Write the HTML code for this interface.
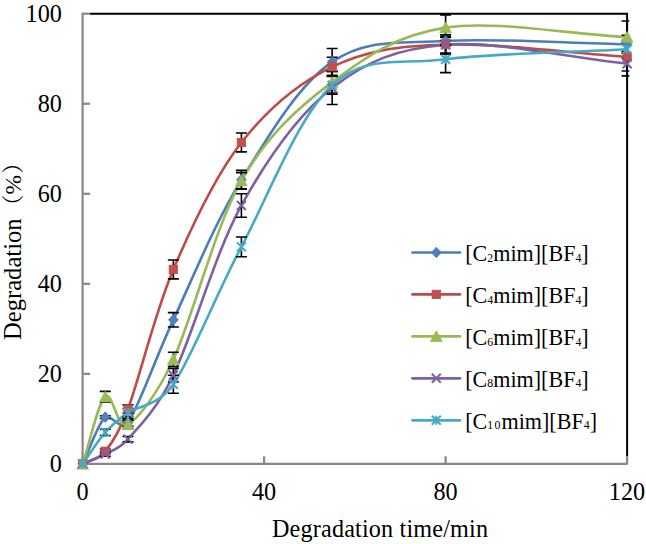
<!DOCTYPE html>
<html><head><meta charset="utf-8"><title>Degradation chart</title>
<style>html,body{margin:0;padding:0;background:#fff}body{width:646px;height:544px;overflow:hidden}</style></head>
<body>
<svg width="646" height="544" viewBox="0 0 646 544" style="display:block" font-family="'Liberation Serif', 'Noto Serif CJK SC', serif" fill="#000">
<rect width="646" height="544" fill="#fff"/>
<defs><clipPath id="pc"><rect x="0" y="0" width="629.3" height="544"/></clipPath></defs>
<g stroke="#878787" stroke-width="2.2" fill="none">
<path d="M82.6,12.7 V463.9 H627.6"/>
<path d="M82.6,463.90 h7.5"/>
<path d="M82.6,373.86 h7.5"/>
<path d="M82.6,283.82 h7.5"/>
<path d="M82.6,193.78 h7.5"/>
<path d="M82.6,103.74 h7.5"/>
<path d="M82.6,13.70 h7.5"/>
<path d="M82.60,463.9 v-7.6"/>
<path d="M264.10,463.9 v-7.6"/>
<path d="M445.60,463.9 v-7.6"/>
<path d="M627.10,463.9 v-7.6"/>
</g>
<path d="M90.1,13.7 H627.1 V456.3" stroke="#000" stroke-width="2" fill="none"/>
<path d="M82.60,463.90 C90.16,448.29 97.72,423.98 105.29,417.08 C109.75,413.01 121.29,432.03 127.97,422.48 C139.32,406.27 154.44,360.28 173.35,319.84 C192.26,279.39 214.94,222.82 241.41,179.82 C267.88,136.83 298.13,85.02 332.16,61.87 C366.19,38.72 396.44,43.86 445.60,40.94 C494.76,38.01 566.60,43.19 627.10,44.31" fill="none" stroke="#4A7EBB" stroke-width="2.6" stroke-linecap="round" stroke-linejoin="round"/>
<path d="M82.60,463.90 C90.16,459.70 97.72,460.45 105.29,451.29 C110.90,444.50 119.56,431.46 127.97,408.98 C139.32,378.66 154.44,313.83 173.35,269.41 C192.26,224.99 214.94,176.22 241.41,142.46 C267.88,108.69 298.13,83.14 332.16,66.82 C366.19,50.50 396.44,46.19 445.60,44.54 C494.76,42.89 566.60,52.79 627.10,56.92" fill="none" stroke="#BE4B48" stroke-width="2.6" stroke-linecap="round" stroke-linejoin="round"/>
<path d="M82.60,463.90 C90.16,441.54 97.72,403.42 105.29,396.82 C112.85,390.22 116.63,430.51 127.97,424.28 C138.00,418.78 156.65,395.32 173.35,359.45 C192.26,318.86 214.94,226.94 241.41,180.72 C267.88,134.50 298.13,107.64 332.16,82.13 C366.19,56.62 396.44,35.16 445.60,27.66 C494.76,20.15 566.60,33.96 627.10,37.11" fill="none" stroke="#98B954" stroke-width="2.6" stroke-linecap="round" stroke-linejoin="round"/>
<path d="M82.60,463.90 C90.16,460.60 97.72,458.12 105.29,454.00 C111.20,450.77 119.11,449.40 127.97,439.14 C138.25,427.25 156.23,410.47 173.35,375.21 C192.26,336.27 214.94,253.36 241.41,205.49 C267.88,157.61 298.13,114.77 332.16,87.98 C366.19,61.20 396.44,48.82 445.60,44.76 C494.76,40.71 566.60,57.37 627.10,63.67" fill="none" stroke="#7D60A0" stroke-width="2.6" stroke-linecap="round" stroke-linejoin="round"/>
<path d="M82.60,463.90 C90.16,453.40 97.72,440.94 105.29,432.39 C112.85,423.83 116.63,420.61 127.97,412.58 C137.04,406.16 158.23,406.29 173.35,384.21 C192.26,356.60 214.94,296.73 241.41,246.90 C267.88,197.08 298.13,116.57 332.16,85.28 C366.19,53.99 396.44,65.17 445.60,59.17 C494.76,53.17 566.60,52.57 627.10,49.27" fill="none" stroke="#46AAC5" stroke-width="2.6" stroke-linecap="round" stroke-linejoin="round"/>
<path d="M105.29,415.73 V418.43 M99.79,415.73 h11 M99.79,418.43 h11 M127.97,418.88 V426.08 M122.47,418.88 h11 M122.47,426.08 h11 M173.35,312.63 V327.04 M167.85,312.63 h11 M167.85,327.04 h11 M241.41,170.37 V189.28 M235.91,170.37 h11 M235.91,189.28 h11 M332.16,48.55 V75.20 M326.66,48.55 h11 M326.66,75.20 h11 M445.60,37.34 V44.54 M440.10,37.34 h11 M440.10,44.54 h11 M627.10,35.31 V53.32 M621.60,35.31 h11 M621.60,53.32 h11" fill="none" stroke="#000" stroke-width="1.6" clip-path="url(#pc)"/>
<path d="M105.29,449.04 V453.55 M99.79,449.04 h11 M99.79,453.55 h11 M127.97,404.92 V413.03 M122.47,404.92 h11 M122.47,413.03 h11 M173.35,259.96 V278.87 M167.85,259.96 h11 M167.85,278.87 h11 M241.41,133.00 V151.91 M235.91,133.00 h11 M235.91,151.91 h11 M332.16,57.19 V76.46 M326.66,57.19 h11 M326.66,76.46 h11 M445.60,34.90 V54.17 M440.10,34.90 h11 M440.10,54.17 h11 M627.10,42.78 V71.06 M621.60,42.78 h11 M621.60,71.06 h11" fill="none" stroke="#000" stroke-width="1.6" clip-path="url(#pc)"/>
<path d="M105.29,391.42 V402.22 M99.79,391.42 h11 M99.79,402.22 h11 M127.97,420.23 V428.33 M122.47,420.23 h11 M122.47,428.33 h11 M173.35,352.25 V366.66 M167.85,352.25 h11 M167.85,366.66 h11 M241.41,172.62 V188.83 M235.91,172.62 h11 M235.91,188.83 h11 M332.16,71.33 V92.94 M326.66,71.33 h11 M326.66,92.94 h11 M445.60,14.83 V40.49 M440.10,14.83 h11 M440.10,40.49 h11 M627.10,20.99 V53.23 M621.60,20.99 h11 M621.60,53.23 h11" fill="none" stroke="#000" stroke-width="1.6" clip-path="url(#pc)"/>
<path d="M105.29,451.74 V456.25 M99.79,451.74 h11 M99.79,456.25 h11 M127.97,436.44 V441.84 M122.47,436.44 h11 M122.47,441.84 h11 M173.35,368.46 V381.96 M167.85,368.46 h11 M167.85,381.96 h11 M241.41,193.78 V217.19 M235.91,193.78 h11 M235.91,217.19 h11 M332.16,71.46 V104.51 M326.66,71.46 h11 M326.66,104.51 h11 M445.60,36.44 V53.09 M440.10,36.44 h11 M440.10,53.09 h11 M627.10,51.52 V75.83 M621.60,51.52 h11 M621.60,75.83 h11" fill="none" stroke="#000" stroke-width="1.6" clip-path="url(#pc)"/>
<path d="M105.29,429.23 V435.54 M99.79,429.23 h11 M99.79,435.54 h11 M127.97,408.53 V416.63 M122.47,408.53 h11 M122.47,416.63 h11 M173.35,375.21 V393.22 M167.85,375.21 h11 M167.85,393.22 h11 M241.41,237.00 V256.81 M235.91,237.00 h11 M235.91,256.81 h11 M332.16,76.28 V94.29 M326.66,76.28 h11 M326.66,94.29 h11 M445.60,45.75 V72.59 M440.10,45.75 h11 M440.10,72.59 h11 M627.10,40.26 V58.27 M621.60,40.26 h11 M621.60,58.27 h11" fill="none" stroke="#000" stroke-width="1.6" clip-path="url(#pc)"/>
<path d="M82.60,458.60 l4.9,5.3 l-4.9,5.3 l-4.9,-5.3 z" fill="#4F81BD" stroke="#4A7EBB" stroke-width="0.8"/>
<path d="M105.29,411.78 l4.9,5.3 l-4.9,5.3 l-4.9,-5.3 z" fill="#4F81BD" stroke="#4A7EBB" stroke-width="0.8"/>
<path d="M127.97,417.18 l4.9,5.3 l-4.9,5.3 l-4.9,-5.3 z" fill="#4F81BD" stroke="#4A7EBB" stroke-width="0.8"/>
<path d="M173.35,314.54 l4.9,5.3 l-4.9,5.3 l-4.9,-5.3 z" fill="#4F81BD" stroke="#4A7EBB" stroke-width="0.8"/>
<path d="M241.41,174.52 l4.9,5.3 l-4.9,5.3 l-4.9,-5.3 z" fill="#4F81BD" stroke="#4A7EBB" stroke-width="0.8"/>
<path d="M332.16,56.57 l4.9,5.3 l-4.9,5.3 l-4.9,-5.3 z" fill="#4F81BD" stroke="#4A7EBB" stroke-width="0.8"/>
<path d="M445.60,35.64 l4.9,5.3 l-4.9,5.3 l-4.9,-5.3 z" fill="#4F81BD" stroke="#4A7EBB" stroke-width="0.8"/>
<path d="M627.10,39.01 l4.9,5.3 l-4.9,5.3 l-4.9,-5.3 z" fill="#4F81BD" stroke="#4A7EBB" stroke-width="0.8"/>
<rect x="78.40" y="459.70" width="8.4" height="8.4" fill="#C0504D" stroke="#BE4B48" stroke-width="0.8"/>
<rect x="101.09" y="447.09" width="8.4" height="8.4" fill="#C0504D" stroke="#BE4B48" stroke-width="0.8"/>
<rect x="123.77" y="404.78" width="8.4" height="8.4" fill="#C0504D" stroke="#BE4B48" stroke-width="0.8"/>
<rect x="169.15" y="265.21" width="8.4" height="8.4" fill="#C0504D" stroke="#BE4B48" stroke-width="0.8"/>
<rect x="237.21" y="138.26" width="8.4" height="8.4" fill="#C0504D" stroke="#BE4B48" stroke-width="0.8"/>
<rect x="327.96" y="62.62" width="8.4" height="8.4" fill="#C0504D" stroke="#BE4B48" stroke-width="0.8"/>
<rect x="441.40" y="40.34" width="8.4" height="8.4" fill="#C0504D" stroke="#BE4B48" stroke-width="0.8"/>
<rect x="622.90" y="52.72" width="8.4" height="8.4" fill="#C0504D" stroke="#BE4B48" stroke-width="0.8"/>
<path d="M82.60,458.30 l5.9,10.8 l-11.8,0 z" fill="#9BBB59" stroke="#98B954" stroke-width="0.8"/>
<path d="M105.29,391.22 l5.9,10.8 l-11.8,0 z" fill="#9BBB59" stroke="#98B954" stroke-width="0.8"/>
<path d="M127.97,418.68 l5.9,10.8 l-11.8,0 z" fill="#9BBB59" stroke="#98B954" stroke-width="0.8"/>
<path d="M173.35,353.85 l5.9,10.8 l-11.8,0 z" fill="#9BBB59" stroke="#98B954" stroke-width="0.8"/>
<path d="M241.41,175.12 l5.9,10.8 l-11.8,0 z" fill="#9BBB59" stroke="#98B954" stroke-width="0.8"/>
<path d="M332.16,76.53 l5.9,10.8 l-11.8,0 z" fill="#9BBB59" stroke="#98B954" stroke-width="0.8"/>
<path d="M445.60,22.06 l5.9,10.8 l-11.8,0 z" fill="#9BBB59" stroke="#98B954" stroke-width="0.8"/>
<path d="M627.10,31.51 l5.9,10.8 l-11.8,0 z" fill="#9BBB59" stroke="#98B954" stroke-width="0.8"/>
<path d="M78.10,459.40 l9.0,9.0 M87.10,459.40 l-9.0,9.0" fill="none" stroke="#7D60A0" stroke-width="2"/>
<path d="M100.79,449.50 l9.0,9.0 M109.79,449.50 l-9.0,9.0" fill="none" stroke="#7D60A0" stroke-width="2"/>
<path d="M123.47,434.64 l9.0,9.0 M132.47,434.64 l-9.0,9.0" fill="none" stroke="#7D60A0" stroke-width="2"/>
<path d="M168.85,370.71 l9.0,9.0 M177.85,370.71 l-9.0,9.0" fill="none" stroke="#7D60A0" stroke-width="2"/>
<path d="M236.91,200.99 l9.0,9.0 M245.91,200.99 l-9.0,9.0" fill="none" stroke="#7D60A0" stroke-width="2"/>
<path d="M327.66,83.48 l9.0,9.0 M336.66,83.48 l-9.0,9.0" fill="none" stroke="#7D60A0" stroke-width="2"/>
<path d="M441.10,40.26 l9.0,9.0 M450.10,40.26 l-9.0,9.0" fill="none" stroke="#7D60A0" stroke-width="2"/>
<path d="M622.60,59.17 l9.0,9.0 M631.60,59.17 l-9.0,9.0" fill="none" stroke="#7D60A0" stroke-width="2"/>
<path d="M78.10,459.40 l9.0,9.0 M87.10,459.40 l-9.0,9.0 M82.60,459.40 l0,9.0" fill="none" stroke="#46AAC5" stroke-width="2"/>
<path d="M100.79,427.89 l9.0,9.0 M109.79,427.89 l-9.0,9.0 M105.29,427.89 l0,9.0" fill="none" stroke="#46AAC5" stroke-width="2"/>
<path d="M123.47,408.08 l9.0,9.0 M132.47,408.08 l-9.0,9.0 M127.97,408.08 l0,9.0" fill="none" stroke="#46AAC5" stroke-width="2"/>
<path d="M168.85,379.71 l9.0,9.0 M177.85,379.71 l-9.0,9.0 M173.35,379.71 l0,9.0" fill="none" stroke="#46AAC5" stroke-width="2"/>
<path d="M236.91,242.40 l9.0,9.0 M245.91,242.40 l-9.0,9.0 M241.41,242.40 l0,9.0" fill="none" stroke="#46AAC5" stroke-width="2"/>
<path d="M327.66,80.78 l9.0,9.0 M336.66,80.78 l-9.0,9.0 M332.16,80.78 l0,9.0" fill="none" stroke="#46AAC5" stroke-width="2"/>
<path d="M441.10,54.67 l9.0,9.0 M450.10,54.67 l-9.0,9.0 M445.60,54.67 l0,9.0" fill="none" stroke="#46AAC5" stroke-width="2"/>
<path d="M622.60,44.77 l9.0,9.0 M631.60,44.77 l-9.0,9.0 M627.10,44.77 l0,9.0" fill="none" stroke="#46AAC5" stroke-width="2"/>
<path d="M412.5,252.5 H460" stroke="#4A7EBB" stroke-width="2.7" stroke-linecap="round" fill="none"/>
<path d="M436.30,247.20 l4.9,5.3 l-4.9,5.3 l-4.9,-5.3 z" fill="#4F81BD" stroke="#4A7EBB" stroke-width="0.8"/>
<text transform="translate(465.2,260.7) scale(1,1.075)" font-size="22.10" text-anchor="start">[C<tspan font-size="11.8" dy="0.9">2</tspan><tspan dy="-0.9">mim][BF</tspan><tspan font-size="11.8" dy="0.9">4</tspan><tspan dy="-0.9">]</tspan></text>
<path d="M412.5,294.4 H460" stroke="#BE4B48" stroke-width="2.7" stroke-linecap="round" fill="none"/>
<rect x="432.10" y="290.20" width="8.4" height="8.4" fill="#C0504D" stroke="#BE4B48" stroke-width="0.8"/>
<text transform="translate(465.2,302.6) scale(1,1.075)" font-size="22.10" text-anchor="start">[C<tspan font-size="11.8" dy="0.9">4</tspan><tspan dy="-0.9">mim][BF</tspan><tspan font-size="11.8" dy="0.9">4</tspan><tspan dy="-0.9">]</tspan></text>
<path d="M412.5,336.4 H460" stroke="#98B954" stroke-width="2.7" stroke-linecap="round" fill="none"/>
<path d="M436.30,330.80 l5.9,10.8 l-11.8,0 z" fill="#9BBB59" stroke="#98B954" stroke-width="0.8"/>
<text transform="translate(465.2,344.6) scale(1,1.075)" font-size="22.10" text-anchor="start">[C<tspan font-size="11.8" dy="0.9">6</tspan><tspan dy="-0.9">mim][BF</tspan><tspan font-size="11.8" dy="0.9">4</tspan><tspan dy="-0.9">]</tspan></text>
<path d="M412.5,378.3 H460" stroke="#7D60A0" stroke-width="2.7" stroke-linecap="round" fill="none"/>
<path d="M431.80,373.80 l9.0,9.0 M440.80,373.80 l-9.0,9.0" fill="none" stroke="#7D60A0" stroke-width="2"/>
<text transform="translate(465.2,386.5) scale(1,1.075)" font-size="22.10" text-anchor="start">[C<tspan font-size="11.8" dy="0.9">8</tspan><tspan dy="-0.9">mim][BF</tspan><tspan font-size="11.8" dy="0.9">4</tspan><tspan dy="-0.9">]</tspan></text>
<path d="M412.5,420.3 H460" stroke="#46AAC5" stroke-width="2.7" stroke-linecap="round" fill="none"/>
<path d="M431.80,415.80 l9.0,9.0 M440.80,415.80 l-9.0,9.0 M436.30,415.80 l0,9.0" fill="none" stroke="#46AAC5" stroke-width="2"/>
<text transform="translate(465.2,428.5) scale(1,1.075)" font-size="22.10" text-anchor="start">[C<tspan font-size="11.8" dy="0.9" letter-spacing="1.2">10</tspan><tspan dy="-0.9">mim][BF</tspan><tspan font-size="11.8" dy="0.9">4</tspan><tspan dy="-0.9">]</tspan></text>
<text transform="translate(61.9,472.0) scale(1,1.075)" font-size="24.20" text-anchor="end">0</text>
<text transform="translate(61.9,382.0) scale(1,1.075)" font-size="24.20" text-anchor="end">20</text>
<text transform="translate(61.9,291.9) scale(1,1.075)" font-size="24.20" text-anchor="end">40</text>
<text transform="translate(61.9,201.9) scale(1,1.075)" font-size="24.20" text-anchor="end">60</text>
<text transform="translate(61.9,111.8) scale(1,1.075)" font-size="24.20" text-anchor="end">80</text>
<text transform="translate(61.9,21.8) scale(1,1.075)" font-size="24.20" text-anchor="end">100</text>
<text transform="translate(82.5,500.2) scale(1,1.075)" font-size="24.20" text-anchor="middle">0</text>
<text transform="translate(264.0,500.2) scale(1,1.075)" font-size="24.20" text-anchor="middle">40</text>
<text transform="translate(445.5,500.2) scale(1,1.075)" font-size="24.20" text-anchor="middle">80</text>
<text transform="translate(627.0,500.2) scale(1,1.075)" font-size="24.20" text-anchor="middle">120</text>
<text transform="translate(272.0,536.7) scale(1,1.075)" font-size="24.20" text-anchor="start" textLength="216" lengthAdjust="spacing">Degradation time/min</text>
<text transform="translate(21.2,340) rotate(-90)" font-size="24.6">Degradation<tspan x="123" font-size="22.5">（</tspan><tspan x="145.5" font-size="23.5">%</tspan><tspan x="166.3" font-size="22.5">）</tspan></text>
</svg>
</body></html>
